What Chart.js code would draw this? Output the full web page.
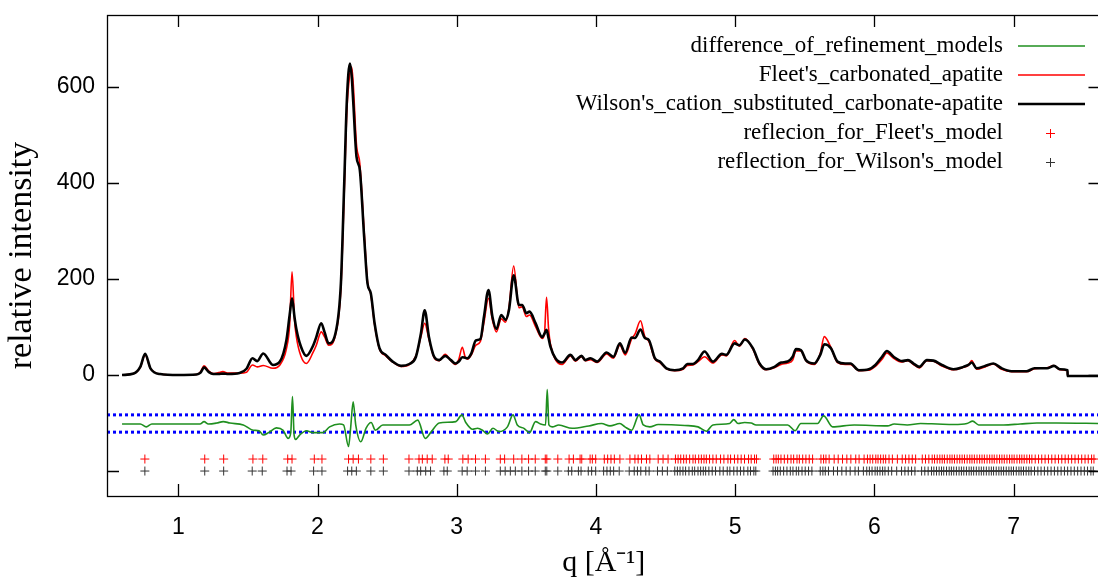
<!DOCTYPE html>
<html>
<head>
<meta charset="utf-8">
<script src="https://cdn.jsdelivr.net/npm/chart.js@4"></script>
<style>
  html, body { margin: 0; padding: 0; background: #fff; overflow: hidden; }
  canvas { display: block; }
</style>
</head>
<body>
<canvas id="chart" width="1106" height="581"></canvas>
<script>
"use strict";

// q grid shared by both calculated patterns
const q = [0.596, 0.68, 0.727, 0.762, 0.80, 0.87, 1.00, 1.13, 1.16, 1.185, 1.22, 1.25, 1.29, 1.32, 1.36, 1.44,
  1.49, 1.533, 1.567, 1.61, 1.68, 1.73, 1.777, 1.80, 1.817, 1.835, 1.848, 1.88, 1.92, 1.968, 1.99, 2.027,
  2.05, 2.08, 2.13, 2.168, 2.192, 2.211, 2.233, 2.245, 2.256, 2.28, 2.304, 2.335, 2.359, 2.383, 2.41, 2.445,
  2.49, 2.54, 2.60, 2.66, 2.707, 2.743, 2.77, 2.80, 2.838, 2.874, 2.917, 2.958, 2.99, 3.015, 3.04, 3.06,
  3.077, 3.105, 3.137, 3.17, 3.196, 3.228, 3.256, 3.285, 3.32, 3.35, 3.375, 3.409, 3.447, 3.47, 3.50, 3.523,
  3.566, 3.614, 3.63, 3.645, 3.66, 3.673, 3.709, 3.757, 3.817, 3.853, 3.896, 3.924, 3.96, 4.008, 4.077, 4.125,
  4.172, 4.21, 4.256, 4.28, 4.32, 4.351, 4.38, 4.423, 4.459, 4.506, 4.566, 4.626, 4.657, 4.697, 4.733, 4.78,
  4.84, 4.905, 4.936, 4.996, 5.03, 5.07, 5.127, 5.175, 5.222, 5.282, 5.33, 5.377, 5.413, 5.437, 5.472, 5.508,
  5.568, 5.611, 5.64, 5.687, 5.735, 5.79, 5.828, 5.888, 5.96, 6.007, 6.055, 6.09, 6.138, 6.198, 6.241, 6.281,
  6.322, 6.377, 6.424, 6.485, 6.568, 6.64, 6.675, 6.699, 6.735, 6.795, 6.854, 6.914, 6.985, 7.093, 7.15, 7.24,
  7.29, 7.332, 7.387, 7.388, 7.624];

const wilson = [0, 3, 17, 44, 14, 2, 0, 1, 5, 16, 6, 2, 2, 3, 2, 4,
  13, 35, 29, 45, 21, 28, 73, 125, 160, 120, 96, 60, 40, 61, 78, 108,
  90, 66, 88, 191, 400, 573, 649, 625, 573, 455, 427, 288, 191, 170, 108, 56,
  42, 28, 19, 23, 38, 87, 135, 80, 38, 31, 40, 31, 24, 28, 37, 36,
  35, 45, 72, 75, 122, 177, 122, 96, 125, 115, 135, 208, 146, 146, 129, 132,
  108, 79, 86, 94, 76, 59, 35, 26, 42, 31, 40, 31, 35, 28, 47, 38,
  66, 46, 78, 77, 95, 77, 73, 35, 28, 14, 10, 14, 23, 23, 31, 49,
  28, 44, 42, 66, 62, 74, 56, 24, 12, 17, 26, 28, 38, 54, 52, 31,
  24, 42, 64, 56, 28, 24, 24, 10, 12, 21, 38, 50, 38, 29, 31, 24,
  17, 31, 30, 21, 12, 17, 21, 26, 14, 19, 24, 14, 8, 8, 14, 14,
  19, 12, 10, -2, -2];

const fleet = [0, 3, 16, 42, 14, 2, 0, 1, 7, 19, 8, 3, 5, 7, 4, 4,
  6, 21, 17, 20, 14, 21, 55, 105, 215, 115, 80, 40, 24, 47, 61, 90,
  80, 62, 85, 180, 380, 550, 630, 642, 610, 480, 440, 300, 195, 168, 105, 54,
  40, 27, 18, 22, 40, 80, 108, 75, 36, 30, 43, 30, 22, 33, 58, 38,
  33, 42, 62, 70, 110, 160, 115, 90, 117, 110, 140, 227, 140, 142, 122, 125,
  101, 76, 85, 162, 95, 65, 32, 22, 40, 29, 38, 30, 32, 26, 44, 35,
  62, 42, 75, 85, 113, 80, 70, 33, 26, 13, 9, 12, 20, 21, 28, 38,
  25, 42, 40, 72, 60, 76, 54, 22, 11, 15, 22, 25, 31, 50, 50, 30,
  22, 45, 80, 58, 26, 22, 22, 9, 10, 18, 33, 46, 35, 27, 30, 22,
  15, 30, 29, 19, 11, 16, 20, 30, 12, 17, 23, 12, 7, 7, 13, 15,
  20, 11, 9, -2, -2];

// difference of the two models, plotted with an offset
const diffQ = [0.596, 0.727, 0.77, 0.81, 1.156, 1.185, 1.216, 1.276, 1.323, 1.371, 1.467, 1.538, 1.58, 1.61,
  1.653, 1.705, 1.753, 1.789, 1.808, 1.82, 1.832, 1.843, 1.872, 1.92, 1.968, 2.04, 2.087, 2.158, 2.187,
  2.223, 2.238, 2.256, 2.275, 2.311, 2.35, 2.385, 2.416, 2.469, 2.66, 2.72, 2.774, 2.815, 2.874, 2.994,
  3.037, 3.065, 3.113, 3.149, 3.185, 3.22, 3.26, 3.304, 3.364, 3.404, 3.435, 3.483, 3.523, 3.566, 3.602,
  3.638, 3.65, 3.662, 3.686, 3.733, 3.829, 3.948, 4.04, 4.1, 4.172, 4.208, 4.256, 4.31, 4.34, 4.387,
  4.447, 4.638, 4.733, 4.793, 4.84, 4.96, 4.99, 5.02, 5.068, 5.115, 5.15, 5.377, 5.43, 5.472, 5.592,
  5.635, 5.70, 5.855, 6.094, 6.142, 6.236, 6.332, 6.451, 6.57, 6.665, 6.706, 6.749, 6.928, 7.047, 7.167,
  7.31, 7.624];
const diff = [-102, -102, -108, -102, -102, -97, -102, -100, -97, -100, -104, -115, -116, -125,
  -119, -110, -115, -132, -120, -45, -125, -134, -125, -116, -120, -120, -108, -102, -104,
  -149, -110, -56, -105, -139, -110, -99, -115, -104, -104, -94, -132, -119, -100, -97,
  -83, -99, -113, -111, -115, -123, -111, -118, -108, -83, -104, -111, -120, -97, -102,
  -104, -30, -104, -108, -104, -111, -106, -101, -106, -101, -108, -115, -83, -104, -108,
  -103, -105, -108, -117, -104, -101, -93, -101, -99, -100, -104, -104, -116, -101, -101,
  -85, -108, -104, -106, -102, -104, -101, -102, -103, -101, -96, -104, -104, -102, -100,
  -100, -101];
const diffBounds = [-83, -119];

// reflection positions
const fleetRefl = [0.760, 1.190, 1.326, 1.536, 1.607, 1.786, 1.817, 1.977, 2.032, 2.223, 2.256, 2.294,
  2.383, 2.473, 2.657, 2.729, 2.753, 2.788, 2.824, 2.915, 2.939, 3.044, 3.082, 3.135, 3.206, 3.313, 3.344,
  3.409, 3.468, 3.516, 3.564, 3.636, 3.647, 3.726, 3.807, 3.838, 3.886, 3.898, 3.958, 3.974, 3.998,
  4.060, 4.084, 4.108, 4.132, 4.172, 4.244, 4.280, 4.303, 4.327, 4.363, 4.387, 4.447, 4.482, 4.518,
  4.571, 4.590, 4.609, 4.630, 4.649, 4.673, 4.697, 4.714, 4.738, 4.757, 4.776, 4.793, 4.816, 4.840,
  4.864, 4.895, 4.919, 4.948, 4.967, 4.995, 5.019, 5.043, 5.067, 5.096, 5.115, 5.139, 5.153,
  5.277, 5.294, 5.310, 5.329, 5.353, 5.377, 5.401, 5.420, 5.444, 5.461, 5.485, 5.508, 5.532, 5.556,
  5.616, 5.635, 5.652, 5.675, 5.711, 5.740, 5.771, 5.802, 5.831, 5.866, 5.890, 5.926, 5.950, 5.969,
  5.988, 6.010, 6.026, 6.045, 6.064, 6.081, 6.105, 6.129, 6.165, 6.200, 6.224, 6.248, 6.272, 6.296,
  6.344, 6.367, 6.391, 6.415, 6.432, 6.451, 6.470, 6.487, 6.503, 6.523, 6.542, 6.558, 6.575, 6.594,
  6.613, 6.630, 6.647, 6.666, 6.685, 6.701, 6.718, 6.737, 6.756, 6.773, 6.790, 6.809, 6.828, 6.845,
  6.861, 6.880, 6.899, 6.916, 6.933, 6.952, 6.971, 6.988, 7.004, 7.024, 7.043, 7.059, 7.076, 7.095,
  7.114, 7.131, 7.155, 7.179, 7.202, 7.226, 7.250, 7.274, 7.298, 7.322, 7.346, 7.370, 7.393, 7.417,
  7.441, 7.465, 7.489, 7.513, 7.536, 7.560, 7.577];
const wilsonRefl = [0.760, 1.190, 1.326, 1.531, 1.603, 1.781, 1.810, 1.972, 2.032, 2.216, 2.246, 2.279,
  2.383, 2.473, 2.657, 2.717, 2.741, 2.777, 2.812, 2.908, 2.932, 3.039, 3.075, 3.135, 3.206, 3.313, 3.348,
  3.385, 3.421, 3.468, 3.516, 3.564, 3.636, 3.647, 3.726, 3.802, 3.826, 3.874, 3.893, 3.945, 3.969, 3.998,
  4.055, 4.079, 4.103, 4.127, 4.167, 4.239, 4.275, 4.298, 4.322, 4.358, 4.382, 4.442, 4.477, 4.513,
  4.566, 4.585, 4.604, 4.625, 4.644, 4.668, 4.692, 4.709, 4.733, 4.752, 4.771, 4.788, 4.811, 4.835,
  4.859, 4.890, 4.914, 4.943, 4.962, 4.990, 5.014, 5.038, 5.062, 5.091, 5.110, 5.134, 5.148,
  5.272, 5.289, 5.305, 5.324, 5.348, 5.372, 5.396, 5.415, 5.439, 5.456, 5.480, 5.503, 5.527, 5.551,
  5.611, 5.630, 5.647, 5.670, 5.706, 5.735, 5.766, 5.797, 5.826, 5.861, 5.885, 5.921, 5.945, 5.964,
  5.983, 6.005, 6.021, 6.040, 6.059, 6.076, 6.100, 6.124, 6.160, 6.195, 6.219, 6.243, 6.267, 6.291,
  6.339, 6.362, 6.386, 6.410, 6.427, 6.446, 6.465, 6.482, 6.498, 6.518, 6.537, 6.553, 6.570, 6.589,
  6.608, 6.625, 6.642, 6.661, 6.680, 6.696, 6.713, 6.732, 6.751, 6.768, 6.785, 6.804, 6.823, 6.840,
  6.856, 6.875, 6.894, 6.911, 6.928, 6.947, 6.966, 6.983, 6.999, 7.019, 7.038, 7.054, 7.071, 7.090,
  7.109, 7.126, 7.150, 7.174, 7.197, 7.221, 7.245, 7.269, 7.293, 7.317, 7.341, 7.365, 7.388, 7.412,
  7.436, 7.460, 7.484, 7.508, 7.531, 7.555, 7.572];
const fleetReflLevel = -175;
const wilsonReflLevel = -200;

const xTicks = [1, 2, 3, 4, 5, 6, 7];
const yTicks = [-200, 0, 200, 400, 600];
const xMin = 0.488, xMax = 7.624;
const yMin = -252, yMax = 750;

const pts = (xs, ys) => xs.map((x, i) => ({ x: x, y: ys[i] }));
const level = (xs, y) => xs.map(x => ({ x: x, y: y }));

// gnuplot style frame, inward ticks and key
const gnuplotFrame = {
    id: 'gnuplotFrame',
    afterDraw(chart) {
        const ctx = chart.ctx;
        const a = chart.chartArea;
        const xs = chart.scales.x, ys = chart.scales.y;
        const tl = 12;
        ctx.save();
        ctx.strokeStyle = '#000';
        ctx.lineWidth = 1.3;
        ctx.strokeRect(Math.round(a.left) + 0.5, Math.round(a.top) + 0.5,
            Math.round(a.right - a.left), Math.round(a.bottom - a.top));
        ctx.beginPath();
        xs.ticks.forEach(t => {
            const px = Math.round(xs.getPixelForValue(t.value)) + 0.5;
            ctx.moveTo(px, a.bottom); ctx.lineTo(px, a.bottom - tl);
            ctx.moveTo(px, a.top); ctx.lineTo(px, a.top + tl);
        });
        ys.ticks.forEach(t => {
            const py = Math.round(ys.getPixelForValue(t.value)) + 0.5;
            ctx.moveTo(a.left, py); ctx.lineTo(a.left + tl, py);
            ctx.moveTo(a.right, py); ctx.lineTo(a.right - tl, py);
        });
        ctx.stroke();

        // key
        ctx.font = '23px "Liberation Serif"';
        ctx.textAlign = 'right';
        ctx.textBaseline = 'middle';
        chart.data.datasets.filter(d => d.inKey).forEach((ds, i) => {
            const y = 46 + i * 29;
            ctx.fillStyle = '#000';
            ctx.fillText(ds.label, 1003, y);
            ctx.strokeStyle = ds.borderColor;
            ctx.lineWidth = ds.borderWidth;
            ctx.beginPath();
            if (ds.showLine === false) {
                ctx.moveTo(1046, y + 0.5); ctx.lineTo(1055, y + 0.5);
                ctx.moveTo(1050.5, y - 4); ctx.lineTo(1050.5, y + 5);
            } else {
                ctx.moveTo(1018, y); ctx.lineTo(1085, y);
            }
            ctx.stroke();
        });
        ctx.restore();
    }
};

new Chart(document.getElementById('chart'), {
    type: 'line',
    data: {
        datasets: [
            {
                label: 'difference_of_refinement_models', inKey: true, order: 2,
                data: pts(diffQ, diff), borderColor: '#1f8f1f', borderWidth: 1.6,
                pointRadius: 0, cubicInterpolationMode: 'monotone'
            },
            {
                label: "Fleet's_carbonated_apatite", inKey: true, order: 1,
                data: pts(q, fleet), borderColor: '#ff0000', borderWidth: 1.6,
                pointRadius: 0, cubicInterpolationMode: 'monotone'
            },
            {
                label: "Wilson's_cation_substituted_carbonate-apatite", inKey: true, order: 0,
                data: pts(q, wilson), borderColor: '#000000', borderWidth: 2.6,
                pointRadius: 0, cubicInterpolationMode: 'monotone'
            },
            {
                label: "reflecion_for_Fleet's_model", inKey: true, order: 3,
                data: level(fleetRefl, fleetReflLevel), showLine: false,
                pointStyle: 'cross', pointRadius: 4.5, borderWidth: 1,
                borderColor: '#ff0000', backgroundColor: '#ff0000'
            },
            {
                label: "reflection_for_Wilson's_model", inKey: true, order: 3,
                data: level(wilsonRefl, wilsonReflLevel), showLine: false,
                pointStyle: 'cross', pointRadius: 4.5, borderWidth: 1,
                borderColor: '#333333', backgroundColor: '#333333'
            },
            {
                label: 'upper', order: 4, data: level([xMin, xMax], diffBounds[0]),
                borderColor: '#0000ff', borderWidth: 3, borderDash: [3, 3], pointRadius: 0
            },
            {
                label: 'lower', order: 4, data: level([xMin, xMax], diffBounds[1]),
                borderColor: '#0000ff', borderWidth: 3, borderDash: [3, 3], pointRadius: 0
            }
        ]
    },
    options: {
        responsive: false,
        animation: false,
        layout: { padding: { top: 15, right: 2, left: 0, bottom: 0 } },
        plugins: { legend: { display: false }, tooltip: { enabled: false } },
        scales: {
            x: {
                type: 'linear', min: xMin, max: xMax,
                afterBuildTicks: s => { s.ticks = xTicks.map(v => ({ value: v })); },
                afterFit: s => { s.height = 85; s.paddingLeft = 0; s.paddingRight = 0; },
                grid: { display: false, drawTicks: false },
                border: { display: false },
                ticks: { color: '#000', padding: 18, maxRotation: 0,
                    font: { family: '"Liberation Sans"', size: 23 } },
                title: { display: true, text: 'q [Å⁻¹]', color: '#000',
                    padding: { top: 0, bottom: 0 },
                    font: { family: '"Liberation Serif"', size: 30 } }
            },
            y: {
                type: 'linear', min: yMin, max: yMax,
                afterBuildTicks: s => { s.ticks = yTicks.map(v => ({ value: v })); },
                afterFit: s => { s.width = 107; s.paddingTop = 0; s.paddingBottom = 0; },
                grid: { display: false, drawTicks: false },
                border: { display: false },
                ticks: { color: '#000', padding: 12,
                    font: { family: '"Liberation Sans"', size: 23 },
                    callback: v => (v < 0 ? '' : String(v)) },
                title: { display: true, text: 'relative intensity', color: '#000',
                    padding: { top: 2, bottom: 0 },
                    font: { family: '"Liberation Serif"', size: 34 } }
            }
        }
    },
    plugins: [gnuplotFrame]
});
</script>
</body>
</html>
